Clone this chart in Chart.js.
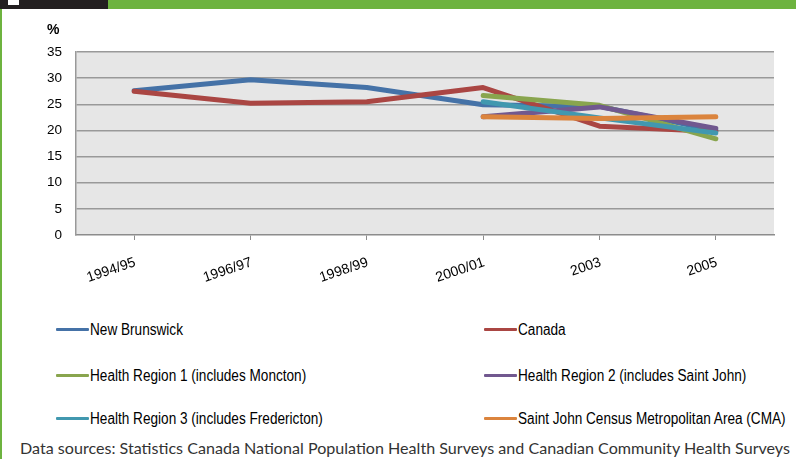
<!DOCTYPE html>
<html>
<head>
<meta charset="utf-8">
<script src="https://cdn.jsdelivr.net/npm/chart.js@4/dist/chart.umd.min.js"></script>
<style>
  html, body { margin:0; padding:0; background:#fff; }
  body { width:796px; height:459px; position:relative; overflow:hidden; font-family:"Liberation Sans",Arial,sans-serif; }
  #topdark { position:absolute; left:0; top:0; width:108px; height:9px; background:#231f20; }
  #topbox { position:absolute; left:8px; top:0; width:11px; height:5px; background:#fff; }
  #topgreen { position:absolute; left:108px; top:0; width:688px; height:9px; background:#6db33f; }
  #leftbar { position:absolute; left:0; top:0; width:2px; height:459px; background:#6db33f; }
  #chartwrap { position:absolute; left:0; top:0; width:796px; height:290px; }
  #ytitle { position:absolute; left:47px; top:21px; font-weight:bold; font-size:14px; color:#000; }
  .leg { position:absolute; font-size:16px; color:#000; white-space:nowrap; line-height:16px; }
  .leg .sw { position:absolute; left:-34px; top:6px; width:33px; height:3px; border-radius:1px; }
  .leg .tx { display:inline-block; transform:scaleX(0.85); transform-origin:0 50%; }
  #footer { position:absolute; left:20px; top:438px; font-family:Lato,"Open Sans",sans-serif; font-size:16px; color:#333; white-space:nowrap; transform-origin:0 50%; }
</style>
</head>
<body>
<div id="chartwrap"><canvas id="c" width="796" height="290"></canvas></div>
<div id="leftbar"></div>
<div id="topdark"></div>
<div id="topbox"></div>
<div id="topgreen"></div>
<div id="ytitle">%</div>
<div id="legend"></div>
<div id="footer">Data sources: Statistics Canada National Population Health Surveys and Canadian Community Health Surveys</div>
<script>
const categories = ["1994/95", "1996/97", "1998/99", "2000/01", "2003", "2005"];
const seriesNames = [
  "New Brunswick",
  "Canada",
  "Health Region 1 (includes Moncton)",
  "Health Region 2 (includes Saint John)",
  "Health Region 3 (includes Fredericton)",
  "Saint John Census Metropolitan Area (CMA)"
];
const newBrunswick = [27.6, 29.7, 28.2, 24.9, 24.6, 20.0];
const canada       = [27.5, 25.2, 25.5, 28.2, 20.8, 19.8];
const healthRegion1 = [null, null, null, 26.7, 24.8, 18.4];
const healthRegion2 = [null, null, null, 22.6, 24.5, 20.4];
const healthRegion3 = [null, null, null, 25.5, 22.4, 19.5];
const saintJohnCMA  = [null, null, null, 22.6, 22.3, 22.6];
const yTicks = [0, 5, 10, 15, 20, 25, 30, 35];
const colors = ["#4572A7", "#AA4643", "#89A54E", "#71588F", "#4198AF", "#DB843D"];

const seriesValues = [newBrunswick, canada, healthRegion1, healthRegion2, healthRegion3, saintJohnCMA];

const datasets = seriesValues.map((vals, i) => ({
  label: seriesNames[i],
  data: vals,
  borderColor: colors[i],
  backgroundColor: colors[i],
  borderWidth: 5,
  pointRadius: 0,
  pointHoverRadius: 0,
  tension: 0,
  fill: false,
  spanGaps: false,
  borderCapStyle: 'round',
  borderJoinStyle: 'round',
  order: seriesValues.length - i
}));

const bgPlugin = {
  id: 'plotbg',
  beforeDraw(chart) {
    const a = chart.chartArea, ctx = chart.ctx;
    ctx.save();
    ctx.fillStyle = '#e6e6e6';
    ctx.fillRect(a.left, a.top, a.right - a.left, a.bottom - a.top);
    ctx.restore();
  }
};

const tickFont = { family: '"Liberation Sans",Arial,sans-serif', size: 13.5 };

new Chart(document.getElementById('c'), {
  type: 'line',
  data: { labels: categories, datasets },
  plugins: [bgPlugin],
  options: {
    responsive: false,
    animation: false,
    devicePixelRatio: 1,
    layout: { padding: { top: 52, right: 22, left: 0, bottom: 0 } },
    plugins: { legend: { display: false }, tooltip: { enabled: false } },
    scales: {
      x: {
        offset: true,
        grid: { offset: false, drawOnChartArea: false, drawTicks: true, tickLength: 5, color: '#8c8c8c', lineWidth: 1 },
        border: { color: '#8c8c8c', width: 1.5 },
        ticks: { color: '#000', font: { family: '"Liberation Sans",Arial,sans-serif', size: 14 }, minRotation: 19, maxRotation: 19, padding: 14, labelOffset: 1, autoSkip: false },
        afterFit(scale) { scale.height = 55; }
      },
      y: {
        min: 0, max: 35,
        afterBuildTicks(scale) { scale.ticks = yTicks.map(v => ({ value: v })); },
        grid: { color: (ctx) => ctx.tick && ctx.tick.value === 0 ? 'rgba(0,0,0,0)' : '#999999', lineWidth: 1.5, drawTicks: false },
        border: { color: '#999999', width: 1.5 },
        ticks: { color: '#000', font: tickFont, padding: 14 },
        afterFit(scale) { scale.width = 76; }
      }
    }
  }
});

// Legend (HTML) in two columns, three rows
const legend = document.getElementById('legend');
const colX = [90, 518];
const rowY = [322, 368, 411];
seriesNames.forEach((name, i) => {
  const d = document.createElement('div');
  d.className = 'leg';
  d.style.left = colX[i % 2] + 'px';
  d.style.top = rowY[Math.floor(i / 2)] + 'px';
  const sw = document.createElement('span');
  sw.className = 'sw';
  sw.style.background = colors[i];
  d.appendChild(sw);
  const tx = document.createElement('span');
  tx.className = 'tx';
  tx.textContent = name;
  d.appendChild(tx);
  legend.appendChild(d);
});

// Fit footer to the reference width
const footer = document.getElementById('footer');
const fw = footer.getBoundingClientRect().width;
footer.style.transform = 'scaleX(' + (770 / fw) + ')';
</script>
</body>
</html>
